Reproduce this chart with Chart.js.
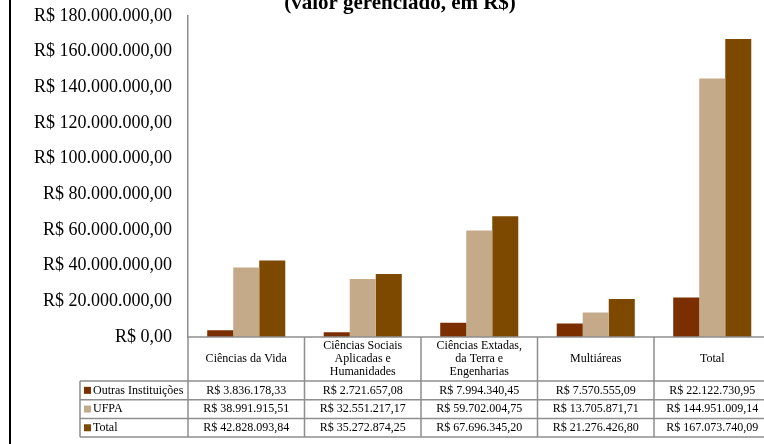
<!DOCTYPE html>
<html lang="pt-BR">

<head>
    <meta charset="UTF-8">
    <script src="https://cdn.jsdelivr.net/npm/chart.js"></script>
    <title>Valor gerenciado por área</title>
    <style>
        html, body { margin: 0; padding: 0; background: #fff; }
        .wrap { position: relative; width: 764px; height: 444px; overflow: hidden; }
        .wrap canvas { position: absolute; left: 0; top: 0; }
        .margem { position: absolute; left: 9px; top: 0; width: 1.5px; height: 444px; background: #000; }
    </style>
</head>

<body>
    <div class="wrap">
        <canvas id="myChart" width="772" height="444"></canvas>
        <div class="margem"></div>
    </div>
    <script>
        // áreas (rótulos em várias linhas)
        const areas = [
            ['Ciências da Vida'],
            ['Ciências Sociais', 'Aplicadas e', 'Humanidades'],
            ['Ciências Extadas,', 'da Terra e', 'Engenharias'],
            ['Multiáreas'],
            ['Total']
        ];
        const series = ['Outras Instituições', 'UFPA', 'Total'];
        const outras = [3836178.33, 2721657.08, 7994340.45, 7570555.09, 22122730.95];
        const ufpa = [38991915.51, 32551217.17, 59702004.75, 13705871.71, 144951009.14];
        const total = [42828093.84, 35272874.25, 67696345.20, 21276426.80, 167073740.09];
        const cores = ['#7b2e00', '#c4aa89', '#7d4900'];
        const titulo = '(valor gerenciado, em R$)';

        // formata no padrão R$ 1.234,56
        function fn_real(v) {
            let partes = v.toFixed(2).split('.');
            let inteiro = partes[0].replace(/\B(?=(\d{3})+(?!\d))/g, '.');
            return 'R$ ' + inteiro + ',' + partes[1];
        }

        const serif = "'Liberation Serif', 'Times New Roman', serif";
        const linhaCor = '#8e8e8e';

        // tabela de dados abaixo do gráfico + título
        const tabelaPlugin = {
            id: 'tabela',
            afterDraw(chart) {
                const ctx = chart.ctx;
                const x = chart.scales.x;
                const area = chart.chartArea;
                const n = areas.length;
                const larg = (x.right - x.left) / n;
                const topo = area.bottom;
                const cab = 44;
                const linha = 18.7;
                const baseTab = topo + cab;
                const fim = baseTab + linha * series.length;
                const legX = 80;

                ctx.save();
                ctx.strokeStyle = linhaCor;
                ctx.lineWidth = 1.5;
                ctx.beginPath();
                // linhas horizontais
                ctx.moveTo(x.left, topo); ctx.lineTo(x.right + 2, topo);
                for (let r = 0; r <= series.length; r++) {
                    let y = baseTab + linha * r;
                    ctx.moveTo(legX, y); ctx.lineTo(x.right + 2, y);
                }
                // linhas verticais
                ctx.moveTo(legX, baseTab); ctx.lineTo(legX, fim);
                for (let i = 0; i <= n; i++) {
                    let xx = x.left + larg * i;
                    ctx.moveTo(xx, topo); ctx.lineTo(xx, fim);
                }
                ctx.stroke();

                ctx.fillStyle = '#000';
                ctx.font = '12px ' + serif;
                ctx.textAlign = 'center';
                ctx.textBaseline = 'middle';
                // cabeçalho
                areas.forEach(function (rot, i) {
                    let cx = x.getPixelForValue(i);
                    let y0 = topo + cab / 2 - (rot.length - 1) * 13 / 2;
                    rot.forEach(function (t, k) { ctx.fillText(t, cx, y0 + k * 13); });
                });
                // valores
                const dados = [outras, ufpa, total];
                dados.forEach(function (arr, r) {
                    let cy = baseTab + linha * r + linha / 2;
                    arr.forEach(function (v, i) {
                        ctx.fillText(fn_real(v), x.getPixelForValue(i), cy);
                    });
                    // legenda
                    ctx.fillStyle = cores[r];
                    ctx.fillRect(84, cy - 3.5, 7, 7);
                    ctx.fillStyle = '#000';
                    ctx.textAlign = 'left';
                    ctx.fillText(series[r], 93, cy);
                    ctx.textAlign = 'center';
                });

                // título (cortado na parte de cima)
                ctx.font = 'bold 21px ' + serif;
                ctx.textBaseline = 'alphabetic';
                ctx.fillText(titulo, 400, 9);
                ctx.restore();
            }
        };

        const ctx = document.getElementById('myChart');
        let config = {
            type: 'bar',
            data: {
                labels: areas,
                datasets: series.map(function (s, i) {
                    return {
                        label: s,
                        data: [outras, ufpa, total][i],
                        backgroundColor: cores[i],
                        borderWidth: 0,
                        categoryPercentage: 0.67,
                        barPercentage: 1.0
                    };
                })
            },
            options: {
                responsive: false,
                animation: false,
                layout: { padding: { top: 16, right: 1.5, bottom: 107, left: 0 } },
                scales: {
                    x: { display: false },
                    y: {
                        min: 0,
                        max: 180000000,
                        afterFit: function (s) {
                            s.width = 188;
                            s.paddingTop = 0;
                            s.paddingBottom = 0;
                        },
                        ticks: {
                            stepSize: 20000000,
                            padding: 16,
                            color: '#000',
                            font: { family: serif, size: 18 },
                            callback: function (v) { return fn_real(v); }
                        },
                        grid: { display: false, drawTicks: false },
                        border: { display: true, color: linhaCor, width: 1.5 }
                    }
                },
                plugins: {
                    legend: { display: false },
                    tooltip: { enabled: false },
                    title: { display: false }
                }
            },
            plugins: [tabelaPlugin]
        };
        let myChart = new Chart(ctx, config);
    </script>
</body>

</html>
